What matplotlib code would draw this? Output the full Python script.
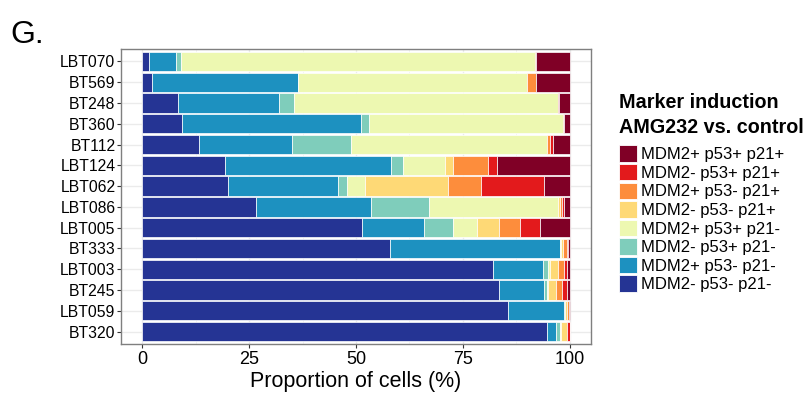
import matplotlib.pyplot as plt
import numpy as np
from matplotlib.patches import Patch

plt.rcParams['font.family'] = ['Liberation Sans', 'DejaVu Sans']

samples = ['LBT070', 'BT569', 'BT248', 'BT360', 'BT112', 'LBT124', 'LBT062',
           'LBT086', 'LBT005', 'BT333', 'LBT003', 'BT245', 'LBT059', 'BT320']

# stacking order, left to right
groups = ['MDM2- p53- p21-', 'MDM2+ p53- p21-', 'MDM2- p53+ p21-', 'MDM2+ p53+ p21-',
          'MDM2- p53- p21+', 'MDM2+ p53- p21+', 'MDM2- p53+ p21+', 'MDM2+ p53+ p21+']
colors = ['#253494', '#1d91c0', '#7fcdbb', '#edf8b1',
          '#fed976', '#fd8d3c', '#e31a1c', '#800026']

# percentage of cells per group, one list per sample
LBT070 = [1.6, 6.3, 1.2, 82.7, 0.0, 0.3, 0.0, 7.9]
BT569 = [2.2, 34.3, 0.0, 53.6, 0.0, 2.0, 0.0, 7.9]
BT248 = [8.3, 23.6, 3.7, 61.7, 0.0, 0.0, 0.2, 2.5]
BT360 = [9.3, 41.8, 2.0, 45.3, 0.0, 0.3, 0.0, 1.3]
BT112 = [13.3, 21.8, 13.7, 45.9, 0.0, 0.8, 0.6, 3.9]
LBT124 = [19.4, 38.7, 3.0, 9.8, 1.7, 8.4, 1.9, 17.1]
LBT062 = [20.1, 25.7, 2.0, 4.2, 19.6, 7.7, 14.8, 5.9]
LBT086 = [26.5, 27.0, 13.7, 30.1, 0.5, 0.3, 0.5, 1.4]
LBT005 = [51.3, 14.5, 6.9, 5.7, 5.1, 4.8, 4.8, 6.9]
BT333 = [58.0, 39.7, 0.0, 0.3, 0.4, 0.9, 0.4, 0.3]
LBT003 = [82.1, 11.6, 1.2, 0.5, 1.8, 1.4, 0.8, 0.6]
BT245 = [83.4, 10.5, 0.9, 0.2, 1.7, 1.6, 1.0, 0.7]
LBT059 = [85.5, 13.2, 0.2, 0.0, 0.5, 0.4, 0.1, 0.1]
BT320 = [94.8, 2.1, 0.9, 0.1, 1.5, 0.0, 0.6, 0.0]

props = np.array([LBT070, BT569, BT248, BT360, BT112, LBT124, LBT062,
                  LBT086, LBT005, BT333, LBT003, BT245, LBT059, BT320])

fig = plt.figure(figsize=(8.09, 3.94), dpi=100)
ax = fig.add_axes([121 / 809, 1 - 344 / 394, 470 / 809, 295 / 394])

ypos = np.arange(len(samples))[::-1]
left = np.zeros(len(samples))
for j, g in enumerate(groups):
    ax.barh(ypos, props[:, j], left=left, height=0.93, color=colors[j],
            edgecolor='white', linewidth=0.5, zorder=2)
    left += props[:, j]

ax.set_xlim(-5, 105)
ax.set_ylim(-0.6, len(samples) - 0.4)
ax.set_xticks([0, 25, 50, 75, 100])
ax.set_xticks([12.5, 37.5, 62.5, 87.5], minor=True)
ax.set_yticks(ypos)
ax.set_yticklabels(samples, fontsize=11.3)
ax.tick_params(axis='x', labelsize=13, length=3, width=0.8, color='#333333', pad=2)
ax.tick_params(axis='y', length=3, width=0.8, color='#333333', pad=1)
ax.tick_params(which='minor', length=0)
ax.grid(True, which='major', color='#ebebeb', linewidth=1, zorder=0)
ax.grid(True, which='minor', axis='x', color='#f2f2f2', linewidth=0.6, zorder=0)
ax.set_axisbelow(True)
for s in ax.spines.values():
    s.set_color('#7f7f7f')
    s.set_linewidth(1)
ax.set_xlabel('Proportion of cells (%)', fontsize=15.5, labelpad=2)

# legend, top entry is the last stacked group
handles = [Patch(facecolor=colors[j], edgecolor='white', linewidth=0.6, label=groups[j])
           for j in range(len(groups) - 1, -1, -1)]
leg = fig.legend(handles=handles, loc='upper left', bbox_to_anchor=(619 / 809, 1 - 93 / 394),
                 frameon=False, fontsize=12, title='Marker induction\nAMG232 vs. control',
                 title_fontproperties={'weight': 'bold', 'size': 14.2},
                 alignment='left', handlelength=1.1, handleheight=1.15,
                 labelspacing=0.1, handletextpad=0.2, borderpad=0, borderaxespad=0)
leg.get_title().set_linespacing(1.4)
leg._legend_box.sep = 6

fig.text(10 / 809, 1 - 43 / 394, 'G.', fontsize=23, va='baseline')

plt.savefig('out.png', dpi=100)
